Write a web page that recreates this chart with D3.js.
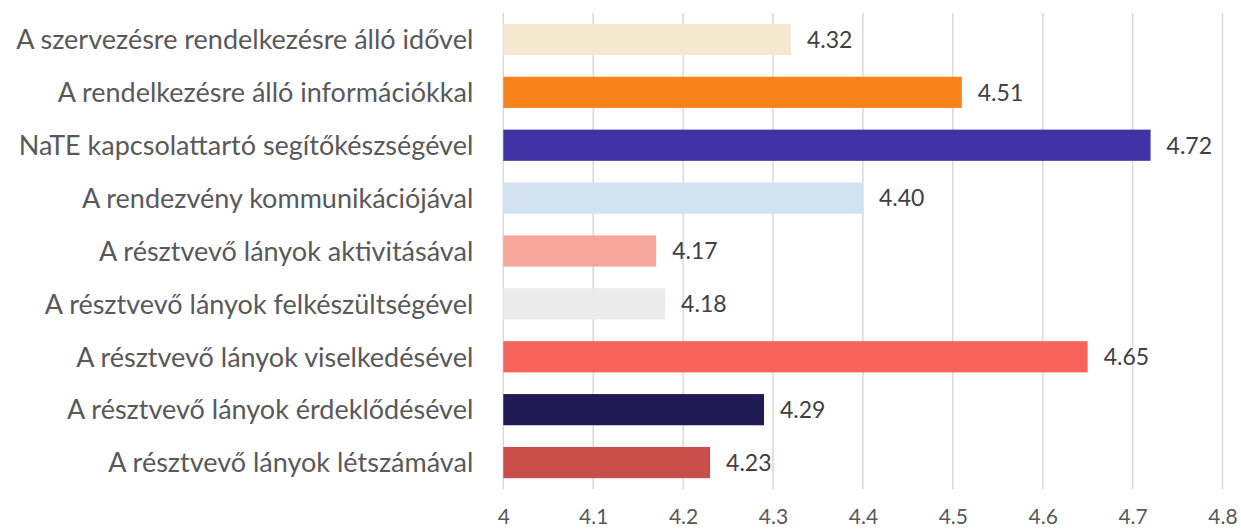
<!DOCTYPE html>
<html>
<head>
<meta charset="utf-8">
<script src="https://cdn.jsdelivr.net/npm/d3@7"></script>
<style>
  body { margin: 0; background: #fff; }
  svg text { font-family: "Lato", "Open Sans", sans-serif; }
</style>
</head>
<body>
<div id="chart"></div>
<script>
// categories top to bottom
var categories = [
    "A szervezésre rendelkezésre álló idővel",
    "A rendelkezésre álló információkkal",
    "NaTE kapcsolattartó segítőkészségével",
    "A rendezvény kommunikációjával",
    "A résztvevő lányok aktivitásával",
    "A résztvevő lányok felkészültségével",
    "A résztvevő lányok viselkedésével",
    "A résztvevő lányok érdeklődésével",
    "A résztvevő lányok létszámával"
];
var values = [4.32, 4.51, 4.72, 4.40, 4.17, 4.18, 4.65, 4.29, 4.23];
var barColors = ["#F5E8D0", "#F7821B", "#4133A6", "#D3E2F1", "#F6A79A", "#EBEBEB", "#F6645A", "#201B55", "#C94D4A"];
var xTicks = [4, 4.1, 4.2, 4.3, 4.4, 4.5, 4.6, 4.7, 4.8];

var width = 1241, height = 530;
var margin = {top: 13, right: 18.5, bottom: 41, left: 503.3};

var svg = d3.select("#chart").append("svg")
    .attr("width", width)
    .attr("height", height);

var xScale = d3.scaleLinear()
    .domain([4, 4.8])
    .range([margin.left, width - margin.right]);

var yScale = d3.scaleBand()
    .domain(categories)
    .range([margin.top, height - margin.bottom])
    .paddingInner(0.41)
    .paddingOuter(0.205);

// gridlines
svg.append("g")
    .selectAll("line")
    .data(xTicks)
    .join("line")
    .attr("x1", d => xScale(d))
    .attr("x2", d => xScale(d))
    .attr("y1", margin.top)
    .attr("y2", height - margin.bottom)
    .attr("stroke", "#d9d9d9")
    .attr("stroke-width", 1.5);

// x tick labels
svg.append("g")
    .attr("transform", "translate(0," + (height - margin.bottom) + ")")
    .call(d3.axisBottom(xScale).tickValues(xTicks).tickFormat(d3.format("")).tickSize(0).tickPadding(20))
    .call(g => g.select(".domain").remove())
    .selectAll("text")
    .attr("fill", "#595959")
    .style("font-size", "21px");

// bars
svg.append("g")
    .selectAll("rect")
    .data(values)
    .join("rect")
    .attr("x", xScale(4))
    .attr("y", (d, i) => yScale(categories[i]))
    .attr("width", d => xScale(d) - xScale(4))
    .attr("height", yScale.bandwidth())
    .attr("fill", (d, i) => barColors[i]);

// value labels
svg.append("g")
    .selectAll("text")
    .data(values)
    .join("text")
    .attr("x", d => xScale(d) + 16)
    .attr("y", (d, i) => yScale(categories[i]) + yScale.bandwidth() / 2)
    .attr("dy", "0.36em")
    .attr("fill", "#404040")
    .style("font-size", "23px")
    .text(d => d.toFixed(2));

// category labels
svg.append("g")
    .attr("transform", "translate(" + xScale(4) + ",0)")
    .call(d3.axisLeft(yScale).tickSize(0).tickPadding(30))
    .call(g => g.select(".domain").remove())
    .selectAll("text")
    .attr("fill", "#595959")
    .attr("dy", "0.36em")
    .style("font-size", "27px");
</script>
</body>
</html>
